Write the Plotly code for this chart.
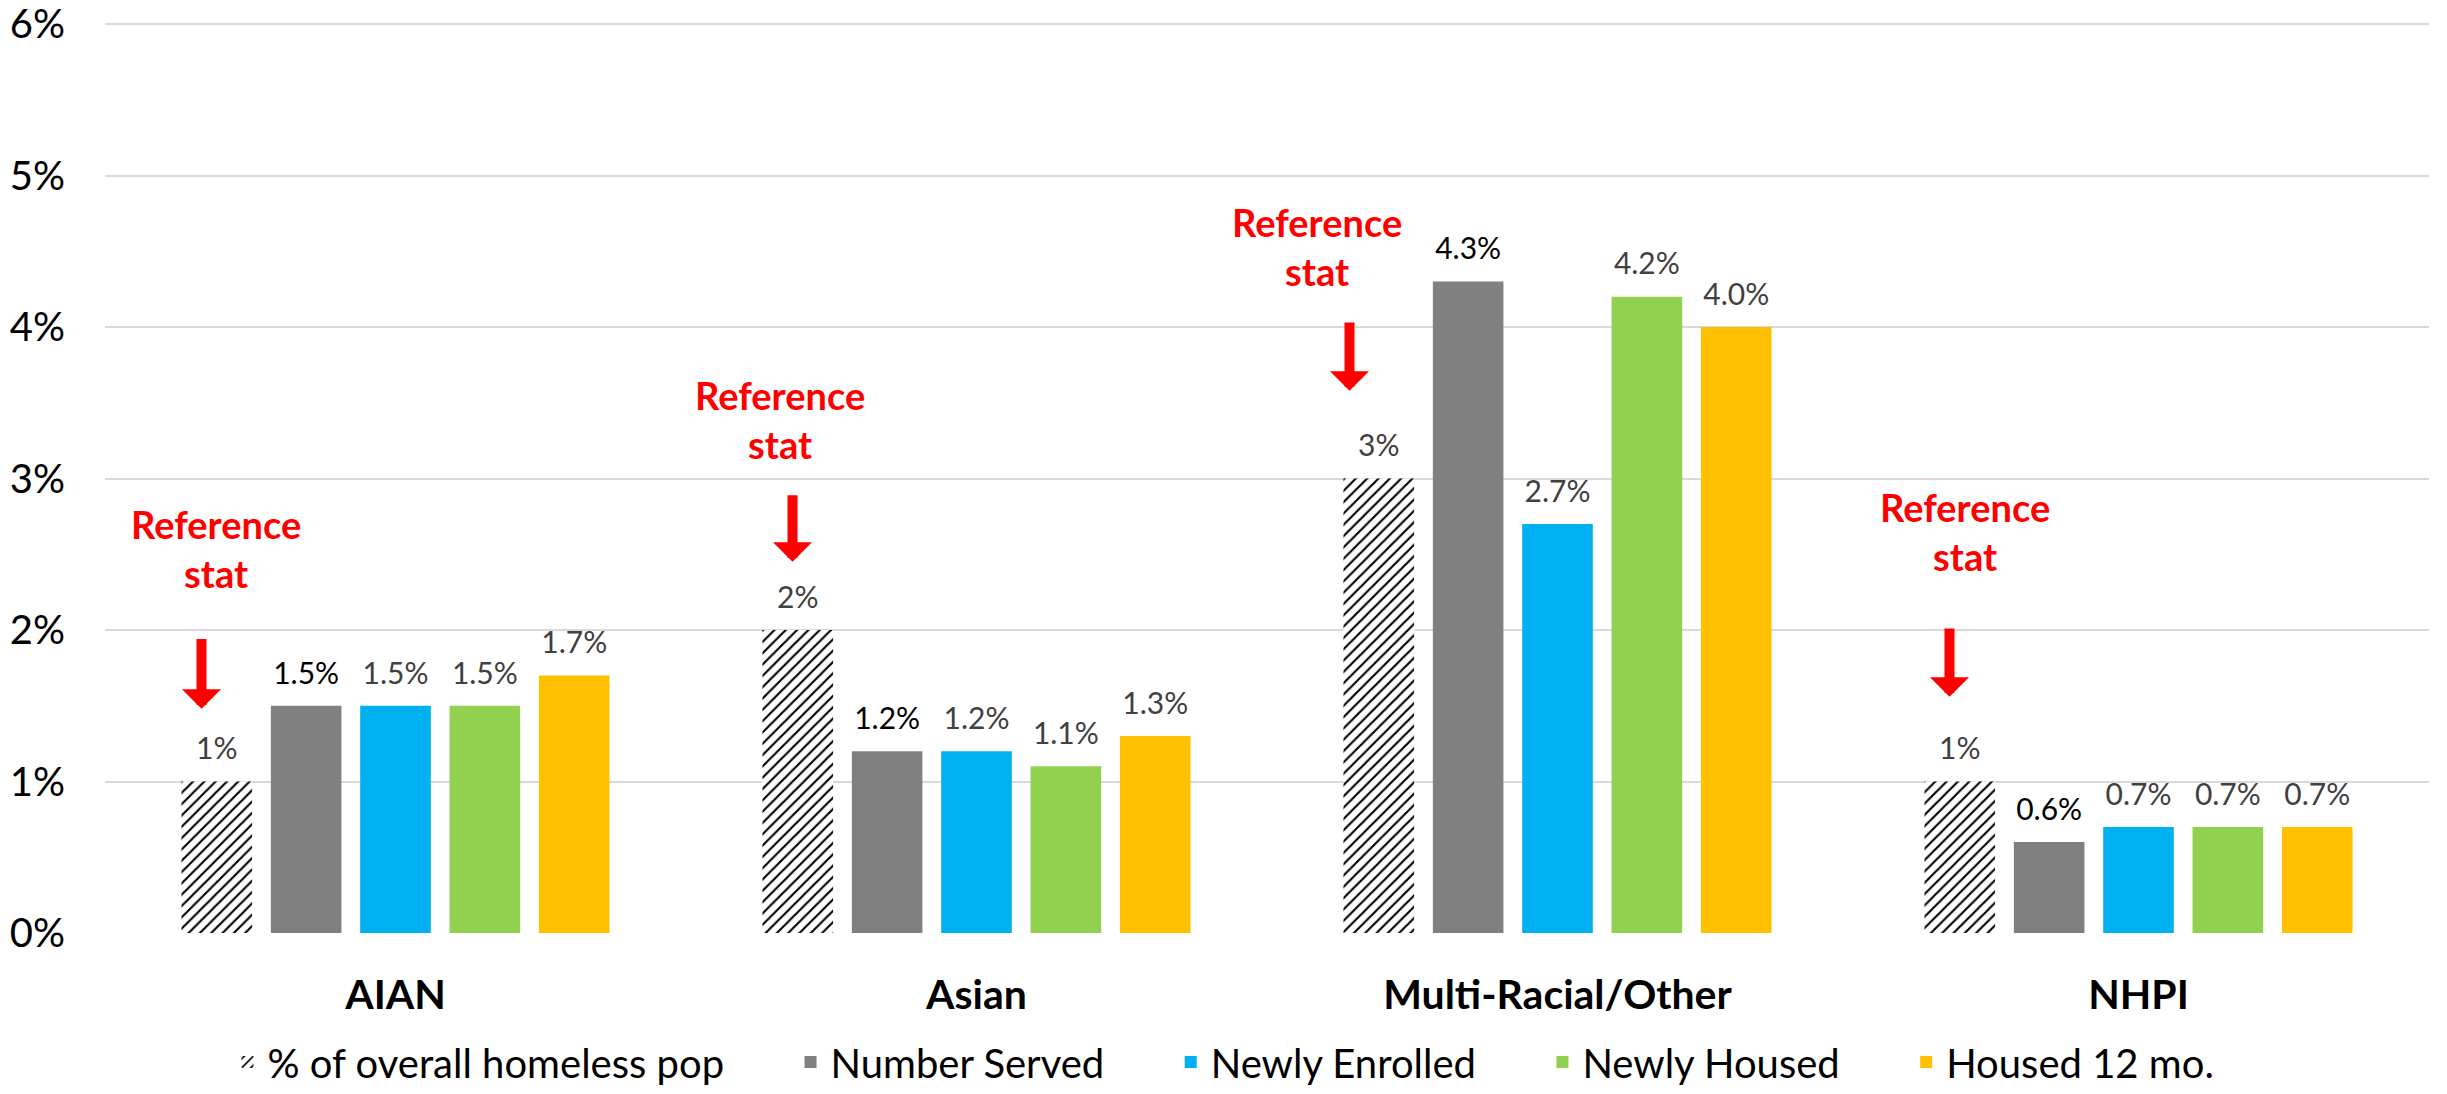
import plotly.graph_objects as go

categories = ["AIAN", "Asian", "Multi-Racial/Other", "NHPI"]
series_names = ["% of overall homeless pop", "Number Served", "Newly Enrolled", "Newly Housed", "Housed 12 mo."]
pct_overall = [1.0, 2.0, 3.0, 1.0]
number_served = [1.5, 1.2, 4.3, 0.6]
newly_enrolled = [1.5, 1.2, 2.7, 0.7]
newly_housed = [1.5, 1.1, 4.2, 0.7]
housed_12mo = [1.7, 1.3, 4.0, 0.7]
y_ticks = [0, 1, 2, 3, 4, 5, 6]
y_tick_labels = ["0%", "1%", "2%", "3%", "4%", "5%", "6%"]

# "Reference stat" callouts (y in % units)
ref_text_y = [2.54, 3.39, 4.53, 2.65]
ref_arrow_top = [1.95, 2.90, 4.04, 2.02]
ref_arrow_tip = [1.48, 2.45, 3.58, 1.56]

FONT = "Lato"
values = [pct_overall, number_served, newly_enrolled, newly_housed, housed_12mo]
colors = ["#FFFFFF", "#808080", "#00B0F0", "#92D050", "#FFC000"]
label_colors = ["#404040", "#000000", "#404040", "#404040", "#404040"]
fmts = ["{:.0f}%", "{:.1f}%", "{:.1f}%", "{:.1f}%", "{:.1f}%"]
PAD = "\u00a0" * 6

fig = go.Figure()
for i, (name, vals) in enumerate(zip(series_names, values)):
    if i == 0:
        marker = dict(color="#FFFFFF",
                      pattern=dict(shape="/", fgcolor="#000000", bgcolor="#FFFFFF",
                                   size=8, solidity=0.27, fillmode="replace"),
                      line=dict(width=0))
    else:
        marker = dict(color=colors[i], line=dict(width=0))
    legend_name = name + (PAD if i < len(series_names) - 1 else "")
    fig.add_trace(go.Bar(x=categories, y=vals, name=legend_name, marker=marker,
                         hoverinfo="skip"))

for i, vals in enumerate(values):
    fig.add_trace(go.Scatter(
        x=categories, y=vals, mode="markers+text",
        text=[fmts[i].format(v) for v in vals],
        textposition="top center",
        textfont=dict(family=FONT, size=30, color=label_colors[i]),
        marker=dict(size=22, opacity=0),
        showlegend=False, hoverinfo="skip", cliponaxis=False))

annotations = []
text_shift = [0, -17, -61, 6]
arrow_shift = [-14, -4, -28, -9]
for k, cat in enumerate(categories):
    annotations.append(dict(
        x=cat, y=ref_text_y[k], xref="x", yref="y",
        xshift=-180 + text_shift[k],
        text="<b>Reference<br>stat</b>", showarrow=False,
        font=dict(family=FONT, size=38, color="#FF0000"),
        align="center", xanchor="center", yanchor="middle"))
    annotations.append(dict(
        x=cat, y=ref_arrow_tip[k], xref="x", yref="y",
        ax=cat, ay=ref_arrow_top[k], axref="x", ayref="y",
        xshift=-180 + arrow_shift[k],
        text="", showarrow=True, arrowhead=1, arrowsize=0.65, arrowwidth=10,
        arrowcolor="#FF0000", standoff=0, startstandoff=0))

fig.update_layout(
    width=2447, height=1094,
    margin=dict(l=105, r=18, t=21, b=161, autoexpand=False),
    paper_bgcolor="#FFFFFF", plot_bgcolor="#FFFFFF",
    barmode="group", bargap=0.231, bargroupgap=0.21,
    scattermode="group", scattergap=0.231,
    font=dict(family=FONT, color="#000000"),
    showlegend=True,
    legend=dict(orientation="h", x=0.5, xanchor="center", xref="container",
                y=-0.1771, yanchor="bottom",
                font=dict(family=FONT, size=40, color="#000000"),
                traceorder="normal", itemclick=False, itemdoubleclick=False),
    annotations=annotations,
)
fig.update_xaxes(type="category", showgrid=False, zeroline=False, showline=False,
                 ticks="", tickfont=dict(family=FONT, size=41, color="#000000", weight="bold"),
                 ticklabelstandoff=34)
fig.update_yaxes(range=[0, 6.02], tickvals=y_ticks, ticktext=y_tick_labels,
                 showgrid=True, gridcolor="#D9D9D9", gridwidth=1.5,
                 zeroline=False, showline=False, ticks="",
                 tickfont=dict(family=FONT, size=40, color="#000000"),
                 ticklabelstandoff=39, ticklabeloverflow="allow")

fig.write_html("out.html", config={"displayModeBar": False},
               post_script="document.body.style.margin='0';document.body.style.overflow='hidden';")
